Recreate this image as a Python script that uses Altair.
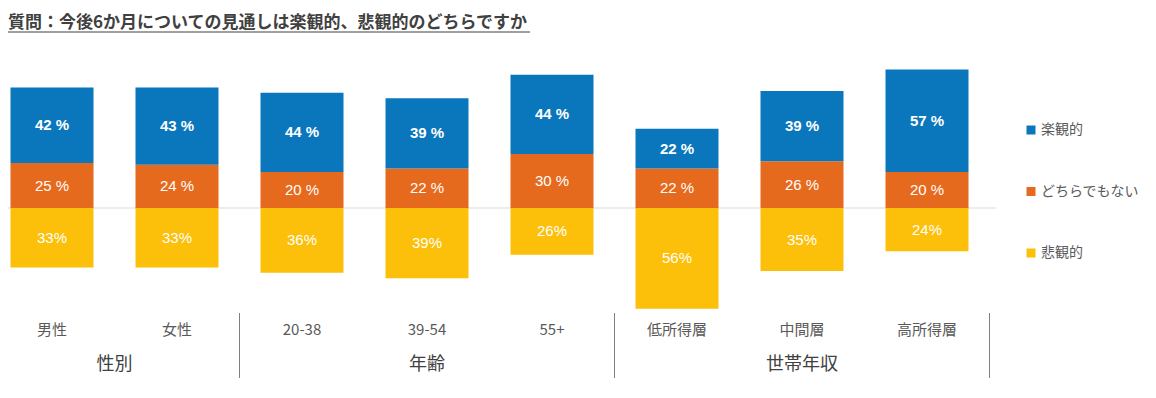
import altair as alt
import pandas as pd

categories = ["男性", "女性", "20-38", "39-54", "55+", "低所得層", "中間層", "高所得層"]
groups = ["性別", "性別", "年齢", "年齢", "年齢", "世帯年収", "世帯年収", "世帯年収"]
optimistic = [42, 43, 44, 39, 44, 22, 39, 57]
neutral = [25, 24, 20, 22, 30, 22, 26, 20]
pessimistic = [33, 33, 36, 39, 26, 56, 35, 24]
series = ["楽観的", "どちらでもない", "悲観的"]
colors = ["#0a77bd", "#e66a1e", "#fcbf0a"]
title_text = "質問：今後6か月についての見通しは楽観的、悲観的のどちらですか"

JP = "Noto Sans CJK JP"
W, H = 1140, 382

rows = []
for i, c in enumerate(categories):
    n, o, p = neutral[i], optimistic[i], pessimistic[i]
    rows.append(dict(idx=i, cat=c, series=series[1], y0=0, y1=n, label=f"{n} %"))
    rows.append(dict(idx=i, cat=c, series=series[0], y0=n, y1=n + o, label=f"{o} %"))
    rows.append(dict(idx=i, cat=c, series=series[2], y0=0, y1=-p, label=f"{p}%"))
df = pd.DataFrame(rows)
df["mid"] = (df["y0"] + df["y1"]) / 2

cat_df = pd.DataFrame({"idx": list(range(len(categories))), "cat": categories, "grp": groups})
grp_df = cat_df.groupby("grp", sort=False)["idx"].agg(["min", "max"]).reset_index()
grp_df["center"] = (grp_df["min"] + grp_df["max"]) / 2
seps = list(grp_df.loc[grp_df["min"] > 0, "min"] - 0.5) + [grp_df["max"].max() + 0.5]
sep_df = pd.DataFrame({"sep": seps})

xs = alt.Scale(domain=[-0.352, -0.352 + W / 125], nice=False, zero=False, padding=0)
ys = alt.Scale(domain=[-(H - 200) / 1.8, 200 / 1.8], nice=False, zero=False, padding=0)

X = alt.X("idx:Q", scale=xs, axis=None)

baseline = alt.Chart(pd.DataFrame({"zero": [0]})).mark_rule(color="#d9d9d9", strokeWidth=1).encode(
    y=alt.Y("zero:Q", scale=ys, axis=None), x=alt.value(0), x2=alt.value(988)
)

bars = alt.Chart(df).mark_bar(size=83).encode(
    x=X,
    y=alt.Y("y0:Q", scale=ys, axis=None),
    y2="y1:Q",
    color=alt.Color(
        "series:N",
        scale=alt.Scale(domain=series, range=colors),
        legend=alt.Legend(
            title=None, orient="none", legendX=1016, legendY=115, symbolType="square",
            symbolSize=81, symbolStrokeWidth=0, labelFont=JP, labelFontSize=14,
            labelColor="#595959", rowPadding=47.5, labelOffset=3,
        ),
    ),
)

lab_bold = alt.Chart(df[df["series"] == series[0]]).mark_text(
    font="Liberation Sans", fontSize=15, fontWeight="bold", color="white"
).encode(x=X, y=alt.Y("mid:Q", scale=ys, axis=None), text="label:N")

lab_reg = alt.Chart(df[df["series"] != series[0]]).mark_text(
    font="Liberation Sans", fontSize=15, color="white"
).encode(x=X, y=alt.Y("mid:Q", scale=ys, axis=None), text="label:N")

cat_text = alt.Chart(cat_df).mark_text(font=JP, fontSize=15, color="#595959", baseline="middle").encode(
    x=X, y=alt.value(322), text="cat:N"
)

grp_text = alt.Chart(grp_df).mark_text(font=JP, fontSize=18, color="#404040", baseline="middle").encode(
    x=alt.X("center:Q", scale=xs, axis=None), y=alt.value(357), text="grp:N"
)

sep_rules = alt.Chart(sep_df).mark_rule(color="#7f7f7f", strokeWidth=1).encode(
    x=alt.X("sep:Q", scale=xs, axis=None), y=alt.value(305), y2=alt.value(370)
)

title = alt.Chart(pd.DataFrame({"t": [title_text]})).mark_text(
    font=JP, fontSize=17, fontWeight="bold", color="#404040", align="left", baseline="alphabetic"
).encode(x=alt.value(0), y=alt.value(20), text="t:N")

underline = alt.Chart(pd.DataFrame({"t": [title_text]})).mark_rule(color="#404040", strokeWidth=1).encode(
    x=alt.value(0), x2=alt.value(522), y=alt.value(24)
)

chart = alt.layer(baseline, bars, lab_bold, lab_reg, cat_text, grp_text, sep_rules, title, underline).properties(
    width=W, height=H, padding=0, autosize="none"
).configure_view(strokeWidth=0)

chart.save("out.html", embed_options={"renderer": "svg", "actions": False})
